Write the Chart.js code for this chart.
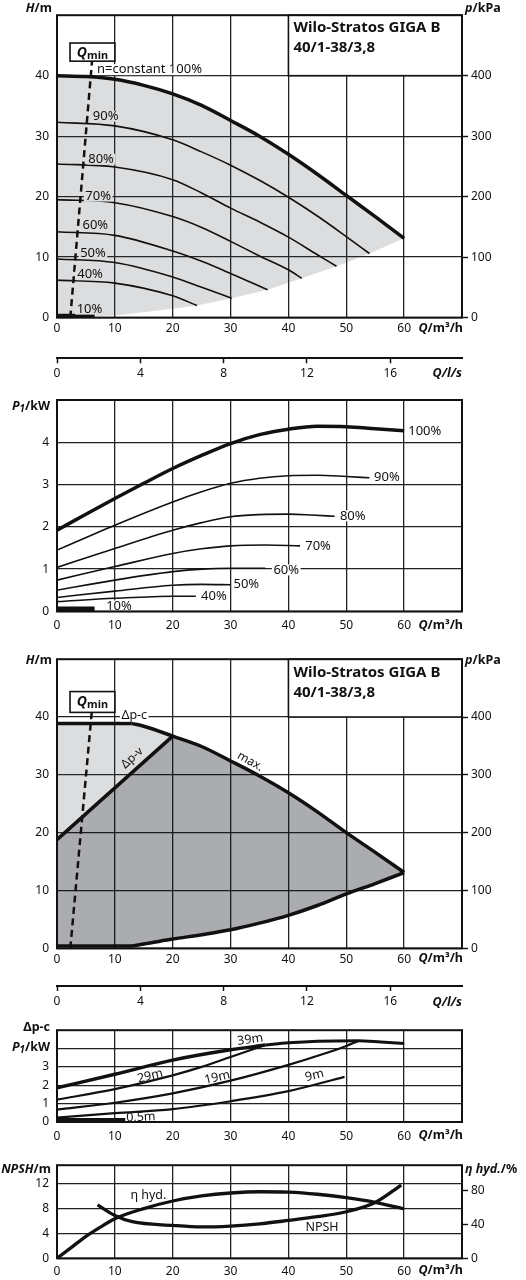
<!DOCTYPE html>
<html>
<head>
<meta charset="utf-8">
<title>Wilo-Stratos GIGA B 40/1-38/3,8</title>
<script src="https://cdn.jsdelivr.net/npm/chart.js@4.4.1/dist/chart.umd.min.js"></script>
<style>
  html, body { margin: 0; padding: 0; background: #fff; }
  #page { position: relative; width: 526px; height: 1280px; overflow: hidden; }
  canvas { position: absolute; left: 0; }
</style>
</head>
<body>
<div id="page">
  <canvas id="hq1" width="526" height="342" style="top:0px"></canvas>
  <canvas id="ls1" width="526" height="42" style="top:342px"></canvas>
  <canvas id="p1" width="526" height="260" style="top:384px"></canvas>
  <canvas id="hq2" width="526" height="326" style="top:644px"></canvas>
  <canvas id="ls2" width="526" height="45" style="top:970px"></canvas>
  <canvas id="dpc" width="526" height="135" style="top:1015px"></canvas>
  <canvas id="npsh" width="526" height="130" style="top:1150px"></canvas>
</div>
<script>
// ---- axes ----
const qGrid = [0, 10, 20, 30, 40, 50, 60, 70];
const qLabels = [0, 10, 20, 30, 40, 50, 60];
const lsTicks = [0, 4, 8, 12, 16];
const hTicks = [0, 10, 20, 30, 40];
const kpaTicks = [0, 100, 200, 300, 400];
const p1Ticks = [0, 1, 2, 3, 4];
const dpcTickLabels = [0, 1, 2, 3];
const npshTicks = [0, 4, 8, 12];
const etaTicks = [0, 40, 80];

const pumpName = ['Wilo-Stratos GIGA B', '40/1-38/3,8'];
const speeds = ['100%', '90%', '80%', '70%', '60%', '50%', '40%', '10%'];
const dpcHeads = ['39m', '29m', '19m', '9m', '0,5m'];

// ---- H(Q) at constant speed, [Q m³/h, H m] ----
const h100 = [[0, 40], [5, 39.85], [10, 39.4], [15, 38.4], [20, 37], [25, 35.1], [30, 32.6], [35, 30], [40, 27], [45, 23.7], [50, 20.2], [55, 16.7], [60, 13.1]];
const h90 = [[0, 32.3], [10, 31.7], [20, 29.4], [25, 27.4], [30, 25.2], [35, 22.7], [40, 19.9], [45, 16.8], [50, 13.4], [54, 10.6]];
const h80 = [[0, 25.4], [10, 24.9], [20, 22.8], [25, 20.6], [30, 18.1], [35, 15.8], [40, 13.3], [45, 10.4], [48.3, 8.5]];
const h70 = [[0, 19.5], [10, 19], [20, 16.7], [25, 14.9], [30, 12.6], [35, 10.2], [40, 7.9], [42.3, 6.5]];
const h60 = [[0, 14.2], [10, 13.6], [20, 11], [25, 9.3], [30, 7.3], [36.4, 4.6]];
const h50 = [[0, 9.7], [10, 9.1], [20, 6.7], [25, 5], [30.2, 3.2]];
const h40 = [[0, 6.2], [10, 5.7], [20, 3.6], [24.2, 2]];
const h10 = [[0, 0.25], [6.5, 0.25]];
const hBound = [[0, 0], [10, 0.36], [20, 1.46], [24.2, 2], [30.2, 3.2], [36.4, 4.6], [42.3, 6.5], [48.3, 8.5], [54, 10.6], [60, 13.1]];
const qmin1 = [[2.3, 0], [6.05, 42.4]];

// ---- P1(Q) at constant speed, [Q m³/h, P1 kW] ----
const p100 = [[0, 1.92], [5, 2.3], [10, 2.67], [15, 3.03], [20, 3.38], [25, 3.69], [30, 3.97], [35, 4.18], [40, 4.31], [45, 4.38], [50, 4.37], [55, 4.32], [60, 4.27]];
const p90 = [[0, 1.45], [10, 2.04], [20, 2.59], [25, 2.83], [30, 3.03], [35, 3.15], [40, 3.21], [45, 3.22], [50, 3.19], [54, 3.16]];
const p80 = [[0, 1.04], [10, 1.49], [20, 1.92], [25, 2.1], [30, 2.24], [35, 2.29], [40, 2.3], [44, 2.28], [48, 2.25]];
const p70 = [[0, 0.74], [10, 1.06], [20, 1.37], [25, 1.48], [30, 1.55], [36, 1.57], [42, 1.55]];
const p60 = [[0, 0.5], [10, 0.74], [20, 0.94], [25, 1], [30, 1.02], [36, 1.02]];
const p50 = [[0, 0.33], [10, 0.48], [20, 0.62], [25, 0.64], [30, 0.63]];
const p40 = [[0, 0.23], [10, 0.31], [20, 0.36], [24, 0.36]];
const p10 = [[0, 0.06], [6.5, 0.06]];

// ---- control modes, [Q m³/h, H m] ----
const maxCurve = [[12.9, 38.9], [15, 38.4], [20, 36.7], [25, 34.9], [30, 32.4], [35, 29.8], [40, 26.9], [45, 23.6], [50, 20], [55, 16.6], [60, 13.1]];
const dpcLine = [[0, 38.9], [12.9, 38.9]];
const dpvLine = [[0, 18.8], [20, 36.7]];
const minCurve = [[0, 0.4], [12.6, 0.4], [15, 0.75], [20, 1.6], [25, 2.35], [30, 3.2], [35, 4.35], [40, 5.7], [45, 7.4], [50, 9.4], [55, 11.2], [60, 13.1]];
const qmin2 = [[2.3, 0], [6, 40.8]];

// ---- P1(Q) for Δp-c, [Q m³/h, P1 kW] ----
const dpc39 = [[0, 1.86], [10, 2.6], [20, 3.37], [30, 3.93], [36, 4.19]];
const dpcMax = [[36, 4.19], [40, 4.31], [45, 4.4], [52, 4.43], [56, 4.36], [60, 4.28]];
const dpc29 = [[0, 1.22], [10, 1.79], [20, 2.54], [25, 3], [30, 3.54], [36, 4.19]];
const dpc19 = [[0, 0.67], [10, 1.05], [20, 1.56], [30, 2.25], [40, 3.11], [46, 3.7], [50, 4.14], [52, 4.4]];
const dpc9 = [[0, 0.24], [10, 0.48], [20, 0.7], [30, 1.13], [40, 1.68], [49.7, 2.46]];
const dpc05 = [[0, 0.1], [11.8, 0.1]];

// ---- NPSH [Q, m] and hydraulic efficiency [Q, %] ----
const npsh = [[7, 8.6], [10, 6.9], [13, 5.9], [20, 5.3], [25, 5.05], [30, 5.2], [35, 5.55], [40, 6.1], [45, 6.7], [50, 7.5], [55, 9], [59.5, 11.8]];
const eta = [[0, 0], [2.5, 13], [5, 26], [7.5, 37], [10, 47], [15, 59], [20, 68], [25, 74], [30, 77.5], [35, 79], [40, 78.5], [45, 76], [50, 72], [55, 66.5], [60, 58.5]];

const FONT = 'Noto Sans';
const INK = '#111';
const GRID = '#222';
const LIGHT = 'rgba(60,65,80,0.18)';
const DARK = 'rgba(10,12,20,0.34)';

Chart.defaults.font.family = FONT;
Chart.defaults.font.size = 12;
Chart.defaults.color = INK;

const T = {
    H: [{ t: 'H', i: 1 }, { t: '/m' }],
    p: [{ t: 'p', i: 1 }, { t: '/kPa' }],
    Q: [{ t: 'Q', i: 1 }, { t: '/m³/h' }],
    Qls: [{ t: 'Q', i: 1 }, { t: '/l/s', i: 1 }],
    P1: [{ t: 'P', i: 1 }, { t: '1', i: 1, sub: 1 }, { t: '/kW' }],
    dpc: [{ t: 'Δp-c' }],
    npsh: [{ t: 'NPSH', i: 1 }, { t: '/m' }],
    eta: [{ t: 'η hyd.', i: 1 }, { t: '/%' }],
    qmin: [{ t: 'Q', i: 1 }, { t: 'min', sub: 1 }]
};

function pts(arr) {
    return arr.map(p => ({ x: p[0], y: p[1] }));
}

function curve(data, width, extra) {
    return Object.assign({
        data: pts(data),
        borderColor: INK,
        borderWidth: width,
        pointRadius: 0,
        cubicInterpolationMode: 'monotone',
        fill: false,
        order: 1
    }, extra || {});
}

function area(data, color) {
    return {
        data: pts(data),
        borderColor: 'rgba(0,0,0,0)',
        backgroundColor: color,
        borderWidth: 0,
        pointRadius: 0,
        tension: 0,
        fill: 'shape',
        order: 10
    };
}

function fixedTicks(values) {
    return scale => { scale.ticks = values.map(v => ({ value: v })); };
}

function qAxis(height, pad) {
    return {
        type: 'linear', min: 0, max: 70,
        afterBuildTicks: fixedTicks(qGrid),
        afterFit: s => { s.height = height; },
        grid: { color: GRID, lineWidth: 1.3, drawTicks: false },
        border: { display: false },
        ticks: { padding: pad, autoSkip: false, maxRotation: 0, callback: v => qLabels.includes(v) ? String(v) : '' }
    };
}

function leftAxis(max, ticks, shown) {
    return {
        position: 'left', min: 0, max: max,
        afterBuildTicks: fixedTicks(ticks),
        afterFit: s => { s.width = 57; },
        grid: { color: GRID, lineWidth: 1.3, drawTicks: false },
        border: { display: false },
        ticks: { padding: 8, callback: v => shown.includes(v) ? String(v) : '' }
    };
}

function rightAxis(max, ticks) {
    return {
        position: 'right', min: 0, max: max,
        afterBuildTicks: fixedTicks(ticks),
        afterFit: s => { s.width = 64; },
        grid: { drawOnChartArea: false, drawTicks: true, tickLength: 6, tickWidth: 1.4, tickColor: INK },
        border: { display: false },
        ticks: { padding: 3 }
    };
}

function lsAxis(height) {
    return {
        type: 'linear', min: 0, max: 70 / 3.6,
        afterBuildTicks: fixedTicks(lsTicks),
        afterFit: s => { s.height = height; },
        grid: { drawOnChartArea: false, drawTicks: true, tickLength: 5, tickWidth: 1.5, tickColor: INK },
        border: { display: true, color: INK, width: 2 },
        ticks: { padding: 3, autoSkip: false, maxRotation: 0 }
    };
}

function drawRich(ctx, segs, x, y, align, size) {
    const fontFor = s => (s.i ? 'italic ' : '') + 'bold ' + (s.sub ? size * 0.78 : size) + 'px "' + FONT + '"';
    let total = 0;
    segs.forEach(s => { ctx.font = fontFor(s); total += ctx.measureText(s.t).width; });
    let cx = x;
    if (align === 'right') cx = x - total;
    if (align === 'center') cx = x - total / 2;
    ctx.textAlign = 'left';
    ctx.textBaseline = 'middle';
    ctx.fillStyle = INK;
    segs.forEach(s => {
        ctx.font = fontFor(s);
        ctx.fillText(s.t, cx, y + (s.sub ? size * 0.22 : 0));
        cx += ctx.measureText(s.t).width;
    });
}

function drawLabel(ctx, chart, l) {
    const ys = chart.scales[l.axis || 'y'];
    const px = chart.scales.x.getPixelForValue(l.x);
    const py = ys.getPixelForValue(l.y);
    ctx.save();
    ctx.translate(px, py);
    ctx.rotate((l.rot || 0) * Math.PI / 180);
    ctx.font = (l.size || 13) + 'px "' + FONT + '"';
    ctx.textBaseline = 'middle';
    ctx.textAlign = l.align || 'left';
    const w = ctx.measureText(l.text).width;
    if (l.bg) {
        const x0 = l.align === 'center' ? -w / 2 : 0;
        ctx.fillStyle = l.bg;
        ctx.fillRect(x0 - 1.5, -5.5, w + 3, 11);
    }
    ctx.fillStyle = INK;
    ctx.fillText(l.text, 0, 0);
    ctx.restore();
}

const decor = {
    id: 'decor',
    afterDraw(chart, args, o) {
        const ctx = chart.ctx;
        const a = chart.chartArea;
        const xs = chart.scales.x;
        ctx.save();
        (o.labels || []).forEach(l => drawLabel(ctx, chart, l));
        (o.boxes || []).forEach(b => {
            const ys = chart.scales.y;
            const x0 = xs.getPixelForValue(b.x0), x1 = xs.getPixelForValue(b.x1);
            const y0 = ys.getPixelForValue(b.y1), y1 = ys.getPixelForValue(b.y0);
            ctx.fillStyle = '#fff';
            ctx.fillRect(x0, y0, x1 - x0, y1 - y0);
            ctx.lineWidth = 1.6;
            ctx.strokeStyle = INK;
            ctx.strokeRect(x0, y0, x1 - x0, y1 - y0);
            b.lines.forEach(ln => {
                const tx = ln.align === 'center' ? (x0 + x1) / 2 : x0 + ln.dx;
                drawRich(ctx, ln.segs, tx, y0 + ln.dy, ln.align || 'left', ln.size);
            });
        });
        if (o.frame) {
            ctx.lineWidth = 2;
            ctx.strokeStyle = INK;
            ctx.strokeRect(a.left, a.top, a.right - a.left, a.bottom - a.top);
        }
        (o.titles || []).forEach(t => drawRich(ctx, t.segs, t.x, t.y, t.align, t.size || 12.5));
        ctx.restore();
    }
};

function makeChart(id, datasets, scales, padding, decorOpts) {
    return new Chart(document.getElementById(id), {
        type: 'line',
        data: { datasets: datasets },
        options: {
            responsive: false,
            animation: false,
            events: [],
            layout: { padding: padding },
            scales: scales,
            plugins: { legend: { display: false }, tooltip: { enabled: false }, decor: decorOpts }
        },
        plugins: [decor]
    });
}

function titleBox(dy1, dy2) {
    return {
        x0: 40, x1: 70, y0: 40, y1: 50,
        lines: [
            { segs: [{ t: pumpName[0] }], dx: 5, dy: dy1, size: 15 },
            { segs: [{ t: pumpName[1] }], dx: 5, dy: dy2, size: 15 }
        ]
    };
}

// ---- panel 1: H(Q), constant speed ----
const speedCurves = [h100, h90, h80, h70, h60, h50, h40];
const speedLabelPos1 = [[6.9, 41.0], [6.2, 33.3], [5.4, 26.2], [4.9, 20.1], [4.4, 15.2], [4.0, 10.6], [3.5, 7.1], [3.4, 1.4]];
makeChart('hq1',
    [area(h100.concat(hBound.slice().reverse()), LIGHT)]
        .concat(speedCurves.map((c, i) => curve(c, i === 0 ? 3.5 : 1.6)))
        .concat([
            curve(h10, 4.5, { tension: 0, cubicInterpolationMode: 'default' }),
            curve(qmin1, 2.5, { borderDash: [7, 4.5], tension: 0, cubicInterpolationMode: 'default' })
        ]),
    { x: qAxis(24.4, 4), y: leftAxis(50, hTicks, hTicks), yp: rightAxis(500, kpaTicks) },
    { top: 1 },
    {
        frame: true,
        boxes: [
            titleBox(13, 32.5),
            { x0: 2.25, x1: 10, y0: 42.4, y1: 45.4, lines: [{ segs: T.qmin, align: 'center', dy: 9.5, size: 14 }] }
        ],
        labels: speeds.map((s, i) => ({
            x: speedLabelPos1[i][0], y: speedLabelPos1[i][1],
            text: i === 0 ? 'n=constant ' + s : s,
            bg: i === 0 ? '#fff' : '#dcdddf'
        })),
        titles: [
            { segs: T.H, x: 52, y: 8.5, align: 'right' },
            { segs: T.p, x: 465, y: 8.5, align: 'left' },
            { segs: T.Q, x: 463, y: 328.3, align: 'right' }
        ]
    });

// ---- Q in l/s ----
makeChart('ls1', [], { x: lsAxis(25.7), y: { display: false, min: 0, max: 1 } },
    { top: 15, left: 57, right: 64 },
    { titles: [{ segs: T.Qls, x: 462, y: 31.3, align: 'right' }] });

// ---- panel 2: P1(Q), constant speed ----
const powerCurves = [p100, p90, p80, p70, p60, p50, p40];
const speedLabelPos2 = [[60.7, 4.25], [54.8, 3.16], [48.9, 2.26], [42.9, 1.55], [37.4, 0.98], [30.5, 0.65], [24.9, 0.36], [8.5, 0.13]];
makeChart('p1',
    powerCurves.map((c, i) => curve(c, i === 0 ? 3.5 : 1.6))
        .concat([curve(p10, 4.5, { tension: 0, cubicInterpolationMode: 'default' })]),
    { x: qAxis(32.6, 7), y: leftAxis(5, p1Ticks, p1Ticks) },
    { top: 16, right: 64 },
    {
        frame: true,
        labels: speeds.map((s, i) => ({ x: speedLabelPos2[i][0], y: speedLabelPos2[i][1], text: s, bg: '#fff' })),
        titles: [
            { segs: T.P1, x: 50, y: 22.7, align: 'right' },
            { segs: T.Q, x: 463, y: 241, align: 'right' }
        ]
    });

// ---- panel 3: H(Q), control modes ----
const lightArea = dpcLine.concat(maxCurve.filter(p => p[0] > dpcLine[1][0] && p[0] <= dpvLine[1][0]), [dpvLine[0]]);
const darkArea = dpvLine.concat(maxCurve.filter(p => p[0] > dpvLine[1][0]), minCurve.slice().reverse(), [[0, 0]]);
const straight = { tension: 0, cubicInterpolationMode: 'default' };
makeChart('hq2',
    [
        area(lightArea, LIGHT),
        area(darkArea, DARK),
        curve(maxCurve, 3.5),
        curve(dpcLine, 3.5, straight),
        curve(dpvLine, 3.5, straight),
        curve(minCurve, 3.5),
        curve(qmin2, 2.5, Object.assign({ borderDash: [7, 4.5] }, straight))
    ],
    { x: qAxis(21.7, 4), y: leftAxis(50, hTicks, hTicks), yp: rightAxis(500, kpaTicks) },
    { top: 9.3 },
    {
        frame: true,
        boxes: [
            titleBox(13.4, 33.4),
            { x0: 2.25, x1: 10, y0: 40.8, y1: 44.4, lines: [{ segs: T.qmin, align: 'center', dy: 10.5, size: 14 }] }
        ],
        labels: [
            { x: 13.35, y: 40.2, text: 'Δp-c', align: 'center', bg: '#fff', size: 12.5 },
            { x: 13.0, y: 32.9, text: 'Δp-v', align: 'center', rot: -42.6, size: 12 },
            { x: 33.4, y: 32.3, text: 'max.', align: 'center', rot: 29.4, size: 12 }
        ],
        titles: [
            { segs: T.H, x: 52, y: 16, align: 'right' },
            { segs: T.p, x: 465, y: 16.7, align: 'left' },
            { segs: T.Q, x: 463, y: 314.5, align: 'right' }
        ]
    });

makeChart('ls2', [], { x: lsAxis(29), y: { display: false, min: 0, max: 1 } },
    { top: 15, left: 57, right: 64 },
    { titles: [{ segs: T.Qls, x: 462, y: 32.3, align: 'right' }] });

// ---- panel 4: P1(Q), Δp-c ----
const dpcLabelPos = [[33.4, 4.48, -8], [16.1, 2.5, -14], [27.7, 2.42, -13], [44.5, 2.53, -14.5], [14.5, 0.26, -3]];
makeChart('dpc',
    [
        curve(dpc39, 3.5),
        curve(dpcMax, 3),
        curve(dpc29, 2.2),
        curve(dpc19, 2.2),
        curve(dpc9, 2.2),
        curve(dpc05, 4.5, straight)
    ],
    { x: qAxis(28, 7), y: leftAxis(5, p1Ticks, dpcTickLabels) },
    { top: 9, right: 64 },
    {
        frame: true,
        labels: dpcHeads.map((s, i) => ({ x: dpcLabelPos[i][0], y: dpcLabelPos[i][1], rot: dpcLabelPos[i][2], text: s, align: 'center', size: 12.5 })),
        titles: [
            { segs: T.dpc, x: 50, y: 12, align: 'right' },
            { segs: T.P1, x: 50, y: 32, align: 'right' },
            { segs: T.Q, x: 463, y: 120.3, align: 'right' }
        ]
    });

// ---- panel 5: NPSH and η hyd. ----
makeChart('npsh',
    [
        curve(npsh, 3.3),
        curve(eta, 3.3, { yAxisID: 'y2' })
    ],
    { x: qAxis(21.7, 6), y: leftAxis(15, npshTicks, npshTicks), y2: rightAxis(110.5, etaTicks) },
    { top: 10.7 },
    {
        frame: true,
        labels: [
            { x: 15.8, y: 10.2, text: 'η hyd.', align: 'center', size: 12.5 },
            { x: 45.8, y: 5.0, text: 'NPSH', align: 'center', size: 12.5 }
        ],
        titles: [
            { segs: T.npsh, x: 51, y: 19.3, align: 'right' },
            { segs: T.eta, x: 465, y: 19, align: 'left' },
            { segs: T.Q, x: 463, y: 120.5, align: 'right' }
        ]
    });
</script>
</body>
</html>
